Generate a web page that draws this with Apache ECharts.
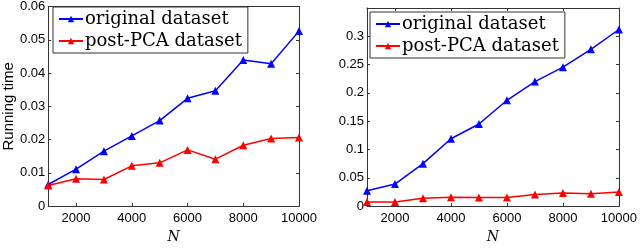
<!DOCTYPE html>
<html><head><meta charset="utf-8">
<script src="https://cdn.jsdelivr.net/npm/echarts@6/dist/echarts.min.js"></script>
<style>html,body{margin:0;padding:0;background:#fff}#c{width:640px;height:249px}</style>
</head><body><div id="c"></div>
<script>
const categories = ['1000','2000','3000','4000','5000','6000','7000','8000','9000','10000'];
const leftOriginal = [0.0065,0.0111,0.0165,0.0211,0.0257,0.0324,0.0347,0.0439,0.0428,0.0526];
const leftPostPCA  = [0.0062,0.0082,0.0080,0.0121,0.0130,0.0169,0.0141,0.0183,0.0203,0.0206];
const rightOriginal = [0.027,0.039,0.075,0.119,0.145,0.187,0.220,0.2455,0.277,0.312];
const rightPostPCA  = [0.0074,0.0074,0.014,0.0156,0.015,0.015,0.0205,0.023,0.022,0.025];
const seriesNames = ['original dataset','post-PCA dataset'];
const yLeft = {min:0,max:0.06,interval:0.01};
const yRight = {min:0,max:0.35,interval:0.05};

const axisCol = '#333';
const oddHidden = (i) => i % 2 === 1;
function xAx(gi, top){
  return {type:'category', gridIndex:gi, data:categories, boundaryGap:false, position: top?'top':'bottom',
    name: top? '' : 'N', nameLocation:'middle', nameGap:21,
    nameTextStyle:{fontFamily:'DejaVu Serif', fontStyle:'italic', fontSize:14, color:'#000'},
    axisLine:{show:true, onZero:false, lineStyle:{color:axisCol,width:1}},
    axisTick:{show:true, inside:true, length:3, interval:oddHidden, lineStyle:{color:axisCol}},
    axisLabel:{show:!top, interval:oddHidden, margin:6, fontFamily:'Liberation Sans', fontSize:13, color:'#000'},
    splitLine:{show:false}};
}
function yAx(gi, lim, right, name, hideMax){
  return {type:'value', gridIndex:gi, min:lim.min, max:lim.max, interval:lim.interval, position: right?'right':'left',
    name: name||'', nameLocation:'middle', nameGap:30,
    nameTextStyle:{fontFamily:'Liberation Sans', fontSize:15, color:'#000'},
    axisLine:{show:true, onZero:false, lineStyle:{color:axisCol,width:1}},
    axisTick:{show:true, inside:true, length:3, lineStyle:{color:axisCol}},
    axisLabel:{show:!right, margin:3, fontFamily:'Liberation Sans', fontSize:13, color:'#000', showMaxLabel: !hideMax},
    splitLine:{show:false}};
}
function ser(name, data, color, xi, yi){
  return {type:'line', name, data, xAxisIndex:xi, yAxisIndex:yi, symbol:'triangle', symbolSize:8,
    lineStyle:{color, width:1.5}, itemStyle:{color}, animation:false};
}
function leg(left, top){
  return {data:seriesNames, orient:'vertical', left, top, itemWidth:24, itemHeight:8, itemGap:4,
    padding:[3,6,3,5], borderColor:'#333', borderWidth:1, backgroundColor:'#fff',
    textStyle:{fontFamily:'DejaVu Serif', fontSize:18, color:'#000', padding:[0,0,0,-3]}, selectedMode:false};
}
const chart = echarts.init(document.getElementById('c'), null, {renderer:'canvas'});
chart.setOption({
  animation:false,
  grid:[{left:45, right:341, top:5, bottom:28},{left:367, right:18, top:8, bottom:28}],
  xAxis:[xAx(0,false), xAx(0,true), xAx(1,false), xAx(1,true)],
  yAxis:[yAx(0,yLeft,false,'Running time',false), yAx(0,yLeft,true), yAx(1,yRight,false,'',true), yAx(1,yRight,true)],
  legend:[leg(53,7), leg(370,12)],
  series:[
    ser(seriesNames[0], leftOriginal, '#0000ff', 0, 0),
    ser(seriesNames[1], leftPostPCA, '#ff0000', 0, 0),
    ser(seriesNames[0], rightOriginal, '#0000ff', 2, 2),
    ser(seriesNames[1], rightPostPCA, '#ff0000', 2, 2)
  ]
});
</script></body></html>
